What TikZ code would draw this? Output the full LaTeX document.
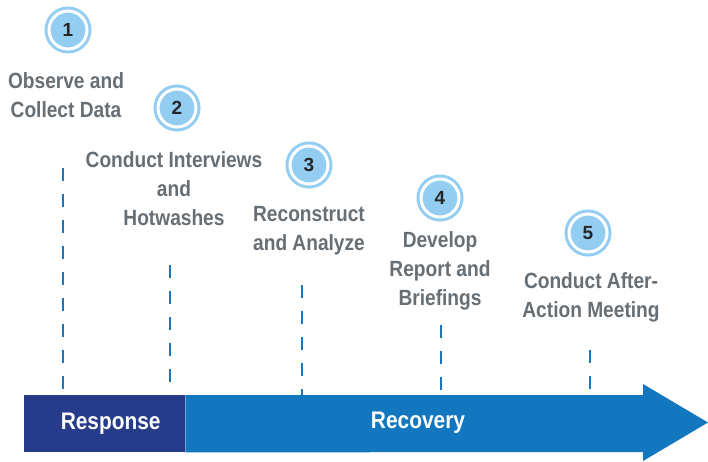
\documentclass[tikz,border=0pt]{standalone}
\usepackage{fontspec}
\newfontfamily\labelfont[FakeStretch=0.87]{Liberation Sans}
\newfontfamily\digitfont{Liberation Sans}
\definecolor{stepgray}{HTML}{676E74}
\definecolor{dotblue}{HTML}{93CDF2}
\definecolor{barblue}{HTML}{1277BE}
\definecolor{navy}{HTML}{263B8A}
\definecolor{dashblue}{HTML}{1B75BC}
\usetikzlibrary{positioning}
\tikzstyle{num}=[circle,fill=dotblue,draw=dotblue,double=white,double distance=3pt,
  line width=3pt,inner sep=0pt,minimum size=38pt,text=black!85,
  font=\digitfont\bfseries\fontsize{19}{19}\selectfont]
\tikzstyle{lbl}=[align=center,text=stepgray,inner sep=0pt,
  font=\labelfont\bfseries\fontsize{22}{29}\selectfont]
\tikzstyle{tick}=[dashblue,line width=2.6pt,dash pattern=on 13pt off 13pt]
\tikzstyle{phase}=[text=white,inner sep=0pt,font=\labelfont\bfseries\fontsize{24}{24}\selectfont]

\begin{document}
\begin{tikzpicture}[x=1pt, y=-1pt, on grid]
  \useasboundingbox (0,0) rectangle (708,461);

  \node[num] (n1) at (68,30) {1};
  \node[num] (n2) at (177,108) {2};
  \node[num] (n3) at (309,165) {3};
  \node[num] (n4) at (440,198) {4};
  \node[num] (n5) at (588,233) {5};

  \node[lbl, below=65.5pt of n1, xshift=-2pt] (l1) {Observe and\\Collect Data};
  \node[lbl, below=80.5pt of n2, xshift=-3pt] (l2) {Conduct Interviews\\and\\Hotwashes};
  \node[lbl, below=66pt of n3] (l3) {Reconstruct\\and Analyze};
  \node[lbl, below=72.5pt of n4] (l4) {Develop\\Report and\\Briefings};
  \node[lbl, below=64pt of n5, xshift=3pt] (l5) {Conduct After-\\Action Meeting};

  % timeline bar
  \node[fill=navy, anchor=north west, minimum width=161pt,
    minimum height=57pt] (resp) at (24,395) {};
  \node[phase] (resptext) at ([xshift=6pt]resp.center) {Response};
  \fill[barblue] (resp.north east) -- (643,395) -- (643,384) -- (708,422.5)
    -- (643,461) -- (643,452) -- (resp.south east) -- cycle;
  \node[phase] (rec) at (418,423) {Recovery};

  \coordinate (s1) at (63,168);
  \coordinate (s2) at (170,265);
  \coordinate (s3) at (302,285);
  \coordinate (s4) at (441,325);
  \coordinate (s5) at (590,350);

  \draw[tick] (s1) -- (s1 |- resp.north);
  \draw[tick] (s2) -- (s2 |- resp.north);
  \draw[tick] (s3) -- (s3 |- resp.north);
  \draw[tick] (s4) -- (s4 |- resp.north);
  \draw[tick] (s5) -- (s5 |- resp.north);

\end{tikzpicture}
\end{document}
